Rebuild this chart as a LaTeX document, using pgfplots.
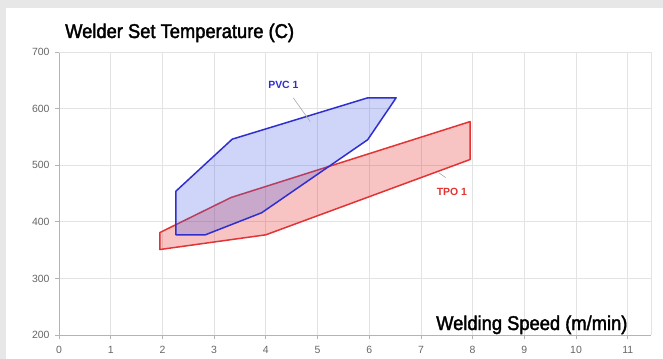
\documentclass[border=0pt]{standalone}
\usepackage{pgfplots}
\pgfplotsset{compat=1.18}
\usepackage{fontspec}
\setmainfont{Liberation Sans}
\newfontfamily\headfont[FakeBold=2]{Liberation Sans}
\definecolor{bgGray}{HTML}{E7E7E7}
\definecolor{gridGray}{HTML}{E3E3E3}
\definecolor{axisGray}{HTML}{B4B4B4}
\definecolor{tickText}{HTML}{666666}
\definecolor{pvcLine}{HTML}{2F2FD0}
\definecolor{pvcFill}{HTML}{3C5AE6}
\definecolor{tpoLine}{HTML}{E23434}
\definecolor{tpoFill}{HTML}{E62828}
\definecolor{leader}{HTML}{A8A8A8}
\begin{document}
\begin{tikzpicture}
\useasboundingbox (0,0) rectangle (663bp,359bp);
\fill[bgGray] (0,0) rectangle (663bp,359bp);
\fill[white] (6bp,0) rectangle (663bp,351bp);
\begin{axis}[
  at={(59bp,24bp)}, anchor=south west,
  scale only axis, width=592bp, height=283bp,
  xmin=0, xmax=11.45, ymin=200, ymax=700,
  xtick={0,1,...,11}, ytick={200,300,...,700},
  axis x line*=bottom, axis y line*=left,
  axis line style={axisGray, line width=0.8pt},
  tick style={axisGray, line width=0.8pt},
  tick align=outside, major tick length=4bp,
  grid=major, major grid style={gridGray, line width=0.7pt},
  /pgf/number format/assume math mode=true,
  ticklabel style={font=\fontsize{10.5}{11}\selectfont, text=tickText},
  xticklabel style={yshift=-4bp},
  yticklabel style={xshift=-2bp},
  clip=false,
]
\draw[gridGray, line width=0.7pt] (rel axis cs:0,1) -- (rel axis cs:1,1) -- (rel axis cs:1,0);
% TPO 1
\addplot[draw=tpoLine, line width=1.5pt, fill=tpoFill, fill opacity=0.28, line join=round] coordinates {
 (1.95,351) (4.0,377) (7.95,510) (7.95,577) (3.33,443) (1.95,381) (1.95,351)
} -- cycle;
% PVC 1
\addplot[draw=pvcLine, line width=1.5pt, fill=pvcFill, fill opacity=0.25, line join=round] coordinates {
 (2.26,377) (2.83,377) (3.92,416) (5.97,545) (6.52,619) (5.97,619) (3.35,546) (2.26,454) (2.26,377)
} -- cycle;
\addplot[leader, line width=0.6pt] coordinates {(4.53,619) (4.86,577)};
\addplot[leader, line width=0.6pt] coordinates {(7.34,487) (7.48,478)};
\node[font=\bfseries\fontsize{10.5}{11}\selectfont, text=pvcLine] at (axis cs:4.34,642) {PVC 1};
\node[font=\bfseries\fontsize{10.5}{11}\selectfont, text=tpoLine] at (axis cs:7.6,453) {TPO 1};
\end{axis}
\node[anchor=base west, inner sep=0pt, font=\headfont\fontsize{20}{22}\selectfont] at (65bp,321bp) {\scalebox{0.92}[1]{Welder Set Temperature (C)}};
\node[anchor=base west, inner sep=0pt, font=\headfont\fontsize{20}{22}\selectfont] at (436bp,29bp) {\scalebox{0.92}[1]{Welding Speed (m/min)}};
\end{tikzpicture}
\end{document}
